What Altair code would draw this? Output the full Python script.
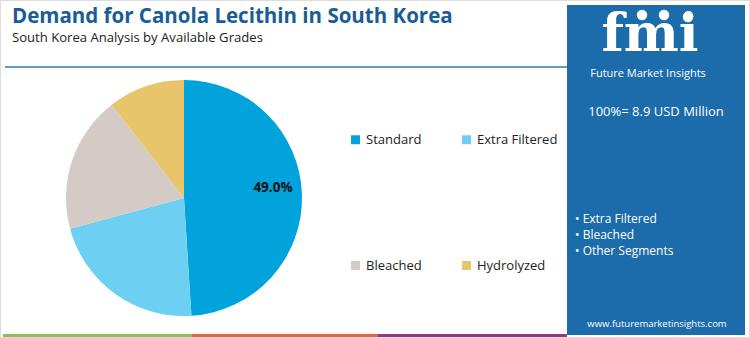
import altair as alt
import pandas as pd

categories = ["Standard", "Extra Filtered", "Bleached", "Hydrolyzed"]
shares = [49.0, 21.8, 18.7, 10.5]
colors = ["#00A3DB", "#6DCFF2", "#D5CBC6", "#E8C46B"]
labels = ["49.0%", "", "", ""]

title_text = "Demand for Canola Lecithin in South Korea"
subtitle_text = "South Korea Analysis by Available Grades"
total_text = "100%= 8.9 USD Million"
bullets = ["• Extra Filtered", "• Bleached", "• Other Segments"]
website = "www.futuremarketinsights.com"

df = pd.DataFrame({"cat": categories, "share": shares, "idx": list(range(len(categories))), "label": labels})
one = pd.DataFrame({"a": [0]})

W, H = 750, 338
CX, CY, R = 184, 198, 118

base_one = alt.Chart(one)

border = base_one.mark_rect(fill="white", stroke="#dddddd", strokeWidth=1).encode(
    x=alt.value(0.5), x2=alt.value(W - 0.5), y=alt.value(0.5), y2=alt.value(H - 0.5))

panel = base_one.mark_rect(color="#1C6BAA").encode(
    x=alt.value(567), x2=alt.value(745), y=alt.value(5), y2=alt.value(335))

strip_g = base_one.mark_rect(color="#8CC152").encode(x=alt.value(3), x2=alt.value(192), y=alt.value(334), y2=alt.value(337))
strip_o = base_one.mark_rect(color="#E8643A").encode(x=alt.value(192), x2=alt.value(378), y=alt.value(334), y2=alt.value(337))
strip_p = base_one.mark_rect(color="#8E3A8C").encode(x=alt.value(378), x2=alt.value(567), y=alt.value(334), y2=alt.value(337))

hline = base_one.mark_rule(color="#5E9BC4", strokeWidth=2).encode(
    x=alt.value(5), x2=alt.value(567), y=alt.value(67))

title = base_one.mark_text(text=title_text, font="Open Sans", fontWeight="bold", fontSize=20.5,
                           color="#1A5C97", align="left", baseline="alphabetic").encode(
    x=alt.value(12), y=alt.value(23))
subtitle = base_one.mark_text(text=subtitle_text, font="Open Sans", fontSize=13.1,
                              color="#222222", align="left", baseline="alphabetic").encode(
    x=alt.value(12), y=alt.value(42))

pie = alt.Chart(df).mark_arc(outerRadius=R).encode(
    theta=alt.Theta("share:Q", stack=True),
    order=alt.Order("idx:Q"),
    color=alt.Color("cat:N", scale=alt.Scale(domain=categories, range=colors),
                    sort=categories,
                    legend=alt.Legend(title=None, orient="none", legendX=349, legendY=133,
                                      columns=2, direction="horizontal", symbolType="square",
                                      symbolSize=80, labelFontSize=13, labelFont="Open Sans",
                                      labelColor="#222222", columnPadding=38, rowPadding=112,
                                      symbolStrokeWidth=0)),
    x=alt.value(CX), y=alt.value(CY))

pie_label = alt.Chart(df).mark_text(radius=89, dy=-7, font="Open Sans", fontWeight="bold", fontSize=13.5,
                                    color="#111111").encode(
    theta=alt.Theta("share:Q", stack=True),
    order=alt.Order("idx:Q"),
    text="label:N",
    x=alt.value(CX), y=alt.value(CY))

logo = base_one.mark_text(text="fmi", font="DejaVu Serif", fontWeight="bold", fontSize=52,
                          color="white", align="center", baseline="bottom").encode(
    x=alt.value(650), y=alt.value(62))
dots = alt.Chart(pd.DataFrame({"px": [642, 664, 688], "py": [15, 15, 17]})).mark_circle(
    color="white", opacity=1, size=110).encode(
    x=alt.X("px:Q", scale=None), y=alt.Y("py:Q", scale=None))
logo_sub = base_one.mark_text(text="Future Market Insights", font="Open Sans", fontSize=11,
                              color="white", align="center", baseline="middle").encode(
    x=alt.value(648), y=alt.value(74))
total = base_one.mark_text(text=total_text, font="Open Sans", fontSize=13,
                           color="white", align="center", baseline="middle").encode(
    x=alt.value(656), y=alt.value(112))

bul_df = pd.DataFrame({"t": bullets, "k": list(range(len(bullets)))})
bul = alt.Chart(bul_df).mark_text(font="Open Sans", fontSize=12, color="white",
                                  align="left", baseline="middle").encode(
    text="t:N",
    x=alt.value(575),
    y=alt.Y("k:Q", scale=alt.Scale(domain=[0, 2], range=[219, 251]), axis=None))

web = base_one.mark_text(text=website, font="Open Sans", fontSize=9.5, color="white",
                         align="center", baseline="middle").encode(
    x=alt.value(657), y=alt.value(324))

chart = alt.layer(border, panel, strip_g, strip_o, strip_p, hline, title, subtitle,
                  pie, pie_label, logo, dots, logo_sub, total, bul, web).properties(
    width=W, height=H, autosize=alt.AutoSizeParams(type="none"), padding=0,
    background="white"
).configure_view(stroke=None)

chart.save("out.html", embed_options={"renderer": "svg", "actions": False})
